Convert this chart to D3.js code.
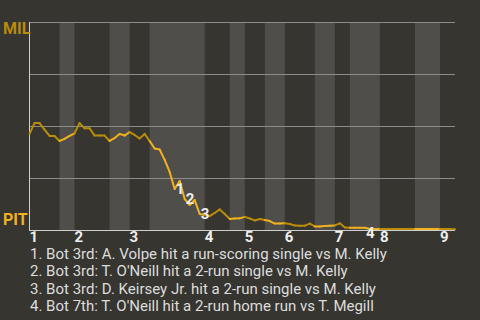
<!DOCTYPE html>
<html>
<head>
<meta charset="utf-8">
<script src="https://cdn.jsdelivr.net/npm/d3@7"></script>
<style>
  html, body { margin: 0; padding: 0; background: #363530; }
  svg { display: block; font-family: Roboto, "Noto Sans", sans-serif; }
</style>
</head>
<body>
<svg id="chart" width="480" height="320"></svg>
<script>
// plate appearance index where each half inning starts (last = end of game)
const halfStarts = [0, 6, 9, 16, 20, 24, 35, 40, 43, 47, 51, 57, 61, 64, 70, 77, 82, 85];
const inningLabels = ["1", "2", "3", "4", "5", "6", "7", "8", "9"];

// MIL win probability (%) after each plate appearance
const milWinPct = [
  46.2, 51.4, 51.4, 48.3, 45.2, 45.2, 42.8, 43.8, 45.2, 46.5,
  51.4, 48.9, 48.9, 45.4, 45.4, 45.4, 42.8, 44.2, 46.2, 45.4,
  47.1, 45.7, 44.0, 46.2, 42.8, 39.2, 38.7, 33.7, 27.9, 19.7,
  23.6, 14.9, 12.0, 14.4, 7.7, 7.2, 6.7, 8.2, 9.9, 7.7,
  5.3, 5.5, 5.6, 6.3, 5.5, 4.6, 5.3, 4.8, 4.3, 3.1,
  3.1, 3.2, 2.9, 2.2, 2.1, 2.1, 3.1, 1.7, 1.7, 1.9,
  2.1, 2.2, 3.2, 1.2, 1.1, 1.1, 1.1, 1.1, 0.5, 0.5,
  0.5, 0.5, 0.5, 0.5, 0.5, 0.5, 0.5, 0.5, 0.5, 0.5,
  0.5, 0.5, 0.5, 0.5, 0.5, 0.4
];

const eventPA = [29, 31, 34, 67];
const eventText = [
  "1. Bot 3rd: A. Volpe hit a run-scoring single vs M. Kelly",
  "2. Bot 3rd: T. O'Neill hit a 2-run single vs M. Kelly",
  "3. Bot 3rd: D. Keirsey Jr. hit a 2-run single vs M. Kelly",
  "4. Bot 7th: T. O'Neill hit a 2-run home run vs T. Megill"
];

const teamTop = "MIL", teamBottom = "PIT";
const colorTop = "#b98c0c", colorBottom = "#f2b11f";

(function () {
  "use strict";
  const svg = d3.select("#chart");
  const W = 480;
  const plot = { left: 29.5, right: 455, top: 22, bottom: 230 };

  const x = d3.scaleLinear().domain([0, halfStarts[halfStarts.length - 1]]).range([plot.left, plot.right]);
  const y = d3.scaleLinear().domain([0, 100]).range([plot.bottom, plot.top]);

  svg.append("rect").attr("width", W).attr("height", 320).attr("fill", "#363530");

  // half-inning bands: bottom halves are lighter
  const halves = d3.range(halfStarts.length - 1).map((k) => ({ k, a: halfStarts[k], b: halfStarts[k + 1] }));
  svg.append("g")
    .selectAll("rect")
    .data(halves.filter((h) => h.k % 2 === 1))
    .join("rect")
    .attr("x", (h) => x(h.a))
    .attr("width", (h) => x(h.b) - x(h.a))
    .attr("y", plot.top)
    .attr("height", plot.bottom - plot.top)
    .attr("fill", "#4f4e4b");

  // grid lines
  svg.append("g")
    .selectAll("line")
    .data([25, 50, 75, 100])
    .join("line")
    .attr("x1", plot.left).attr("x2", plot.right)
    .attr("y1", (d) => Math.round(y(d)) + 0.5).attr("y2", (d) => Math.round(y(d)) + 0.5)
    .attr("stroke", "#8c8c8a").attr("stroke-width", 1);

  // axes lines
  svg.append("line")
    .attr("x1", plot.left).attr("x2", plot.left)
    .attr("y1", plot.top).attr("y2", plot.bottom + 1)
    .attr("stroke", "#cfcfcf").attr("stroke-width", 1);
  svg.append("line")
    .attr("x1", plot.left).attr("x2", plot.right)
    .attr("y1", plot.bottom + 0.5).attr("y2", plot.bottom + 0.5)
    .attr("stroke", "#cfcfcf").attr("stroke-width", 1);

  // team labels
  svg.append("text").attr("x", 3).attr("y", y(100) + 11.5)
    .attr("font-size", 16).attr("font-weight", "bold").attr("fill", colorTop).text(teamTop);
  svg.append("text").attr("x", 3).attr("y", y(0) - 5)
    .attr("font-size", 16).attr("font-weight", "bold").attr("fill", colorBottom).text(teamBottom);

  // inning labels at start of each top half
  svg.append("g")
    .selectAll("text")
    .data(inningLabels)
    .join("text")
    .attr("x", (d, i) => x(halfStarts[i * 2]))
    .attr("y", plot.bottom + 11.5)
    .attr("font-size", 15).attr("font-weight", "bold").attr("fill", "#eeeeee")
    .text((d) => d);

  // win probability line, one segment per plate appearance coloured by batting team
  const segs = d3.range(1, milWinPct.length).map((i) => {
    const half = d3.bisectRight(halfStarts, i - 1) - 1;
    return { i, half };
  });
  svg.append("g")
    .selectAll("line")
    .data(segs)
    .join("line")
    .attr("x1", (s) => x(s.i - 1)).attr("y1", (s) => y(milWinPct[s.i - 1]))
    .attr("x2", (s) => x(s.i)).attr("y2", (s) => y(milWinPct[s.i]))
    .attr("stroke", (s) => (s.half % 2 === 1 ? colorBottom : colorTop))
    .attr("stroke-width", 2)
    .attr("stroke-linecap", "round");

  // event markers
  svg.append("g")
    .selectAll("text")
    .data(eventPA)
    .join("text")
    .attr("x", (d) => x(d) + 1)
    .attr("y", (d) => y(milWinPct[d]) + (milWinPct[d] < 2 ? 5 : 0))
    .attr("dy", "0.36em")
    .attr("font-size", 15).attr("font-weight", "bold").attr("fill", "#eeeeee")
    .text((d, i) => String(i + 1));

  // event descriptions
  svg.append("g")
    .selectAll("text")
    .data(eventText)
    .join("text")
    .attr("x", 30)
    .attr("y", (d, i) => 258.5 + i * 17.5)
    .attr("font-size", 15).attr("fill", "#dddddd")
    .text((d) => d);
})();
</script>
</body>
</html>
